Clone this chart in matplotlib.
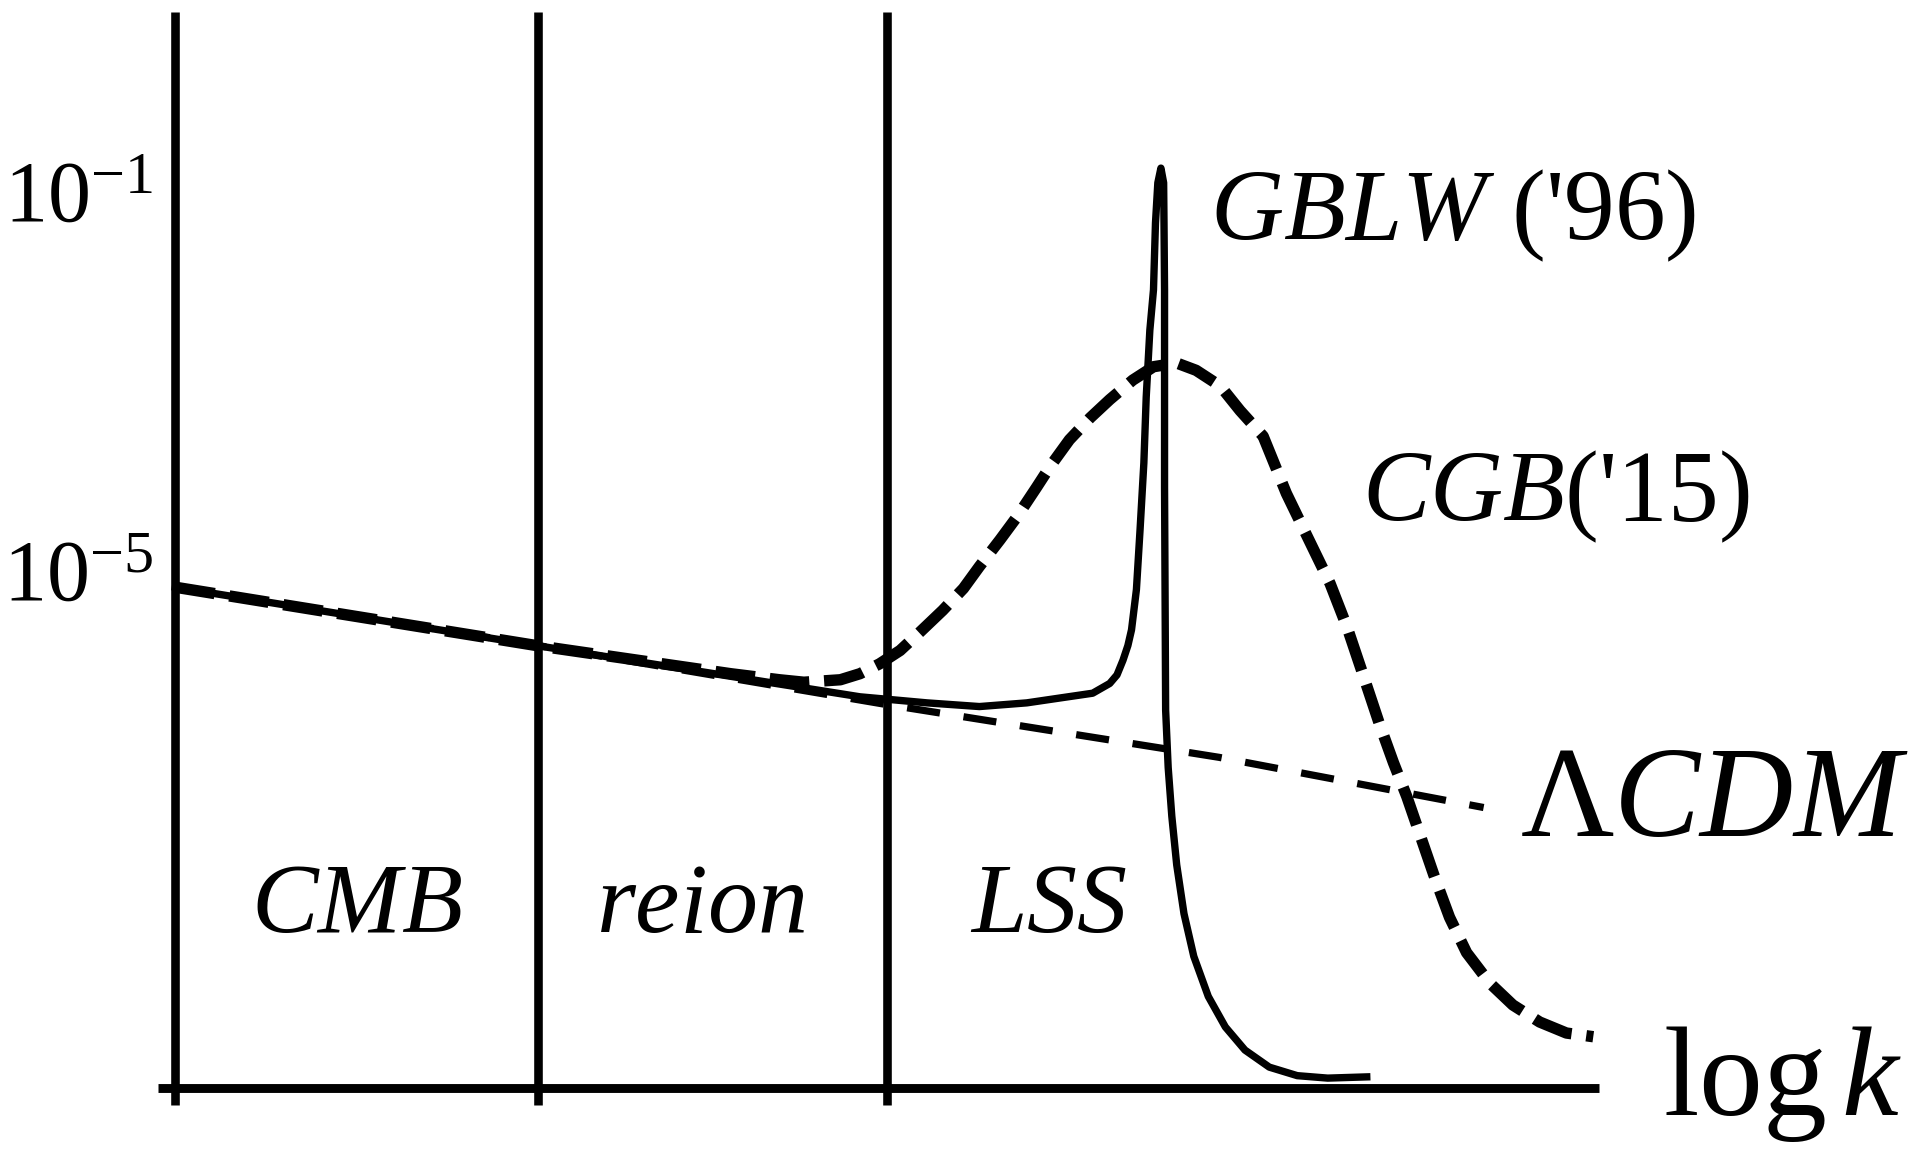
import matplotlib
matplotlib.use('Agg')
import matplotlib.pyplot as plt

plt.rcParams['font.family'] = ['Liberation Serif', 'DejaVu Serif']
plt.rcParams['mathtext.fontset'] = 'custom'
plt.rcParams['mathtext.rm'] = 'Liberation Serif'
plt.rcParams['mathtext.it'] = 'Liberation Serif:italic'
plt.rcParams['mathtext.bf'] = 'Liberation Serif:bold'

# ---------------- data (x = log k, arbitrary units; y = log10 P) ----------------
lcdm_logk = [-4.0, -2.0, -0.09, 1.75, 3.208]
lcdm_logP = [-5.17, -5.79, -6.41, -6.97, -7.50]

gblw_logk = [-4.0, -2.007, -0.228, 0.141, 0.430, 0.691, 0.872, 1.054, 1.148, 1.188,
             1.221, 1.248, 1.268, 1.295, 1.315, 1.336, 1.349, 1.369, 1.389, 1.400,
             1.413, 1.430, 1.445, 1.447, 1.450, 1.450, 1.456, 1.470, 1.490, 1.517,
             1.557, 1.611, 1.691, 1.785, 1.893, 2.027, 2.181, 2.349, 2.564]
gblw_logP = [-5.174, -5.791, -6.331, -6.395, -6.434, -6.395, -6.344, -6.293, -6.190, -6.100,
             -5.945, -5.790, -5.624, -5.199, -4.569, -3.862, -3.167, -2.460, -2.035, -1.328,
             -0.904, -0.749, -0.904, -1.328, -2.035, -4.119, -6.473, -7.077, -7.592, -8.106,
             -8.620, -9.071, -9.495, -9.817, -10.061, -10.241, -10.331, -10.357, -10.344]

cgb_logk = [-4.0, -2.007, -0.940, -0.671, -0.537, -0.336, -0.228, -0.121, -0.007, 0.101,
            0.228, 0.342, 0.430, 0.544, 0.638, 0.745, 0.819, 0.926, 1.040, 1.148,
            1.275, 1.389, 1.517, 1.624, 1.758, 1.866, 1.993, 2.121, 2.248, 2.362,
            2.456, 2.544, 2.631, 2.711, 2.785, 2.859, 2.933, 3.020, 3.114, 3.242,
            3.369, 3.517, 3.664, 3.812]
cgb_logP = [-5.174, -5.791, -6.087, -6.151, -6.177, -6.151, -6.087, -5.984, -5.842, -5.650,
            -5.418, -5.187, -4.955, -4.672, -4.428, -4.119, -3.900, -3.617, -3.386, -3.193,
            -2.987, -2.846, -2.807, -2.884, -3.051, -3.309, -3.579, -4.183, -4.685, -5.135,
            -5.598, -6.100, -6.601, -7.026, -7.386, -7.797, -8.209, -8.659, -9.032, -9.354,
            -9.585, -9.765, -9.881, -9.920]

region_edges = [-4.0, -2.0, -0.08]
region_names = ['$CMB$', '$reion$', '$LSS$']

ytick_values = [-1, -5]
ytick_labels = [r'$10^{-1}$', r'$10^{-5}$']

# ---------------- figure ----------------
fig = plt.figure(figsize=(19.1, 11.5), dpi=100)
ax = fig.add_axes([0, 0, 1, 1])
ax.set_xlim(-4.966, 5.557)
ax.set_ylim(-11.116, 1.026)

for s in ['top', 'right', 'bottom']:
    ax.spines[s].set_visible(False)
ax.spines['left'].set_position(('data', region_edges[0]))
ax.spines['left'].set_visible(False)
ax.set_xticks([])
ax.set_yticks(ytick_values)
ax.set_yticklabels(ytick_labels)
ax.tick_params(axis='y', length=0, pad=16, labelsize=62)

# region dividers and horizontal axis
ax.vlines(region_edges, -10.64, 0.899, color='black', lw=6.2)
ax.hlines(-10.46, -4.094, 3.846, color='black', lw=6.4)

# curves
ax.plot(lcdm_logk, lcdm_logP, color='black', lw=5.2, ls=(0, (4.6, 3.3)))
ax.plot(gblw_logk, gblw_logP, color='black', lw=5.3, solid_joinstyle='round')
ax.plot(cgb_logk, cgb_logP, color='black', lw=8.2, ls=(0, (3.5, 1.3)))

# region names
region_label_x = [-3.0, -1.107, 0.812]
for name, xc in zip(region_names, region_label_x):
    ax.text(xc, -8.813, name, ha='center', va='baseline', fontsize=72)

# curve labels
ax.text(1.698, -1.508, "$GBLW$ ('96)", ha='left', va='baseline', fontsize=73)
ax.text(2.537, -4.479, "$CGB$('15)", ha='left', va='baseline', fontsize=73)
ax.text(3.409, -7.797, r"$\Lambda CDM$", ha='left', va='baseline', fontsize=93)
ax.text(4.195, -10.743, r"log$\,k$", ha='left', va='baseline', fontsize=92)

fig.savefig('out.png', dpi=100)
